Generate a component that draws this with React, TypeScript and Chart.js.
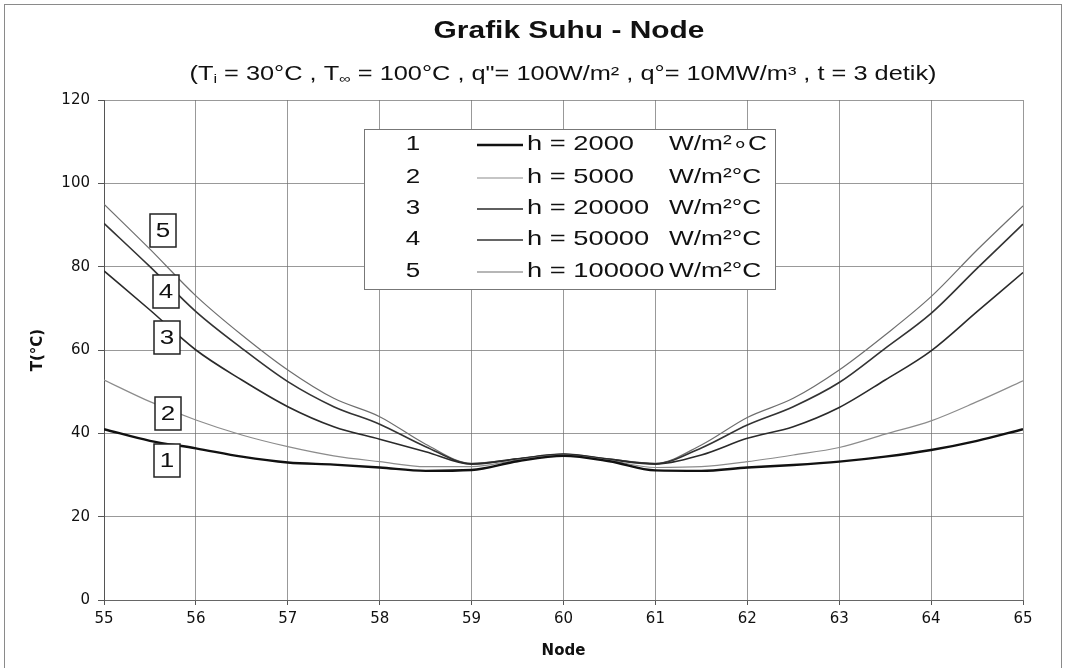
import React, { useEffect, useRef } from "react";
import { Chart, registerables } from "chart.js";

Chart.register(...registerables);

// ---- data ----
const nodes = [55, 55.5, 56, 56.5, 57, 57.5, 58, 58.5, 59, 59.5, 60, 60.5, 61, 61.5, 62, 62.5, 63, 63.5, 64, 64.5, 65];
const h2000 = [41.0, 38.2, 36.4, 34.4, 33.0, 32.5, 31.8, 31.0, 31.2, 33.3, 34.6, 33.3, 31.1, 31.0, 31.8, 32.4, 33.2, 34.4, 36.0, 38.2, 41.0];
const h5000 = [52.8, 47.6, 43.2, 39.6, 36.8, 34.6, 33.2, 32.0, 32.0, 33.6, 34.8, 33.5, 31.8, 32.0, 33.2, 34.8, 36.6, 39.8, 43.0, 47.6, 52.6];
const h20000 = [79.0, 69.6, 60.0, 52.8, 46.4, 41.6, 38.6, 35.6, 32.6, 33.8, 34.9, 33.7, 32.6, 34.8, 38.8, 41.6, 46.2, 52.8, 59.8, 69.2, 78.6];
const h50000 = [90.4, 80.0, 69.2, 60.4, 52.4, 46.4, 42.2, 36.8, 32.7, 33.9, 35.0, 33.8, 32.7, 36.5, 42.0, 46.4, 52.2, 60.4, 68.8, 79.6, 90.2];
const h100000 = [95.0, 84.2, 73.0, 63.6, 55.2, 48.4, 44.0, 37.4, 32.8, 33.9, 35.0, 33.8, 32.8, 37.2, 43.8, 48.4, 55.2, 63.6, 72.8, 84.0, 94.6];

const seriesNumbers = ["1", "2", "3", "4", "5"];
const seriesLabels = ["h = 2000", "h = 5000", "h = 20000", "h = 50000", "h = 100000"];
const seriesUnits = ["W/m²∘C", "W/m²°C", "W/m²°C", "W/m²°C", "W/m²°C"];
const seriesValues = [h2000, h5000, h20000, h50000, h100000];

const titleText = "Grafik Suhu - Node";
const xTitle = "Node";
const yTitle = "T(°C)";

// ---- styles ----
const lineColors = ["#111111", "#8c8c8c", "#2a2a2a", "#333333", "#6e6e6e"];
const lineWidths = [2.4, 1.2, 1.6, 1.6, 1.2];
const TXT = "'Liberation Sans', Arial, sans-serif";
const SX = 1.3;

function sText(ctx: CanvasRenderingContext2D, text: string, x: number, y: number, font: string, align: string, sx = SX) {
  ctx.save();
  ctx.font = font;
  ctx.textBaseline = "middle";
  ctx.textAlign = "left";
  const w = ctx.measureText(text).width * sx;
  const x0 = align === "center" ? x - w / 2 : align === "right" ? x - w : x;
  ctx.translate(x0, y);
  ctx.scale(sx, 1);
  ctx.fillText(text, 0, 0);
  ctx.restore();
  return w;
}

const overlay = {
  id: "overlay",
  beforeDraw(chart: any) {
    const ctx = chart.ctx as CanvasRenderingContext2D;
    ctx.save();
    ctx.fillStyle = "#fff";
    ctx.fillRect(0, 0, chart.width, chart.height);
    ctx.strokeStyle = "#8a8a8a";
    ctx.lineWidth = 1;
    ctx.strokeRect(4.5, 4.5, chart.width - 9, chart.height + 20);
    ctx.restore();
  },
  afterDraw(chart: any) {
    const ctx = chart.ctx as CanvasRenderingContext2D;
    ctx.save();
    ctx.fillStyle = "#111";
    // title
    sText(ctx, titleText, 569, 32, `bold 23px ${TXT}`, "center");
    // subtitle with subscripts
    const main = `19.5px ${TXT}`;
    const sub = `12.5px ${TXT}`;
    const parts: [string, boolean][] = [
      ["(T", false], ["i", true], [" = 30°C , T", false], ["∞", true],
      [" = 100°C , q\"= 100W/m² , q°= 10MW/m³ , t = 3 detik)", false],
    ];
    let total = 0;
    for (const [t, s] of parts) {
      ctx.font = s ? sub : main;
      total += ctx.measureText(t).width * SX;
    }
    let x = 563 - total / 2;
    for (const [t, s] of parts) {
      x += sText(ctx, t, x, s ? 80 : 75, s ? sub : main, "left");
    }

    // legend box
    const bx = 364, by = 129, bw = 411, bh = 160;
    ctx.fillStyle = "#fff";
    ctx.fillRect(bx, by, bw, bh);
    ctx.strokeStyle = "#777";
    ctx.lineWidth = 1;
    ctx.strokeRect(bx + 0.5, by + 0.5, bw, bh);
    const rows = [144, 177, 208, 239, 271];
    for (let i = 0; i < 5; i++) {
      ctx.fillStyle = "#111";
      sText(ctx, seriesNumbers[i], 413, rows[i], `20px ${TXT}`, "center");
      ctx.strokeStyle = lineColors[i];
      ctx.lineWidth = lineWidths[i];
      ctx.beginPath();
      ctx.moveTo(477, rows[i] + 1);
      ctx.lineTo(523, rows[i] + 1);
      ctx.stroke();
      ctx.fillStyle = "#111";
      sText(ctx, seriesLabels[i], 527, rows[i], `21px ${TXT}`, "left");
      sText(ctx, seriesUnits[i], 669, rows[i], `21px ${TXT}`, "left", 1.25);
    }

    // numbered boxes next to the curves
    const boxes: [string, number, number][] = [
      ["5", 163, 230], ["4", 166, 291], ["3", 167, 337], ["2", 168, 413], ["1", 167, 460],
    ];
    for (const [t, cx, cy] of boxes) {
      ctx.fillStyle = "#fff";
      ctx.fillRect(cx - 13, cy - 16, 26, 33);
      ctx.strokeStyle = "#222";
      ctx.lineWidth = 1.5;
      ctx.strokeRect(cx - 13, cy - 16, 26, 33);
      ctx.fillStyle = "#111";
      sText(ctx, t, cx, cy + 1, `20px ${TXT}`, "center");
    }
    ctx.restore();
  },
};

export default function App() {
  const ref = useRef<HTMLCanvasElement>(null);
  useEffect(() => {
    const canvas = ref.current;
    if (!canvas) return;
    const gridColor = "rgba(110,110,110,0.7)";
    const chart = new Chart(canvas, {
      type: "line",
      data: {
        datasets: seriesValues.map((vals, i) => ({
          label: seriesLabels[i],
          data: nodes.map((n, j) => ({ x: n, y: vals[j] })),
          borderColor: lineColors[i],
          borderWidth: lineWidths[i],
          pointRadius: 0,
          fill: false,
          cubicInterpolationMode: "monotone" as const,
        })),
      },
      options: {
        animation: false,
        responsive: false,
        maintainAspectRatio: false,
        layout: { padding: { top: 100, right: 43, left: 0, bottom: 0 } },
        plugins: {
          legend: { display: false },
          title: { display: false },
          tooltip: { enabled: false },
        },
        scales: {
          x: {
            type: "linear",
            min: 55,
            max: 65,
            afterFit: (s: any) => { s.height = 68; },
            ticks: {
              stepSize: 1,
              color: "#111",
              font: { family: "'DejaVu Sans'", size: 15 },
              padding: 5,
              maxRotation: 0,
            },
            grid: {
              color: gridColor,
              borderDash: [2, 2],
              tickLength: 5,
              tickColor: "#555",
              tickBorderDash: [],
            } as any,
            border: { display: true, color: "#666", width: 1 },
            title: {
              display: true,
              text: xTitle,
              color: "#111",
              font: { family: "'DejaVu Sans'", size: 15, weight: "bold" },
              padding: { top: 0, bottom: 8 },
            },
          },
          y: {
            type: "linear",
            min: 0,
            max: 120,
            afterFit: (s: any) => { s.width = 104; },
            ticks: {
              stepSize: 20,
              color: "#111",
              font: { family: "'DejaVu Sans'", size: 15 },
              padding: 8,
            },
            grid: {
              color: gridColor,
              borderDash: [2, 2],
              tickLength: 6,
              tickColor: "#555",
              tickBorderDash: [],
            } as any,
            border: { display: true, color: "#555", width: 1 },
            title: {
              display: true,
              text: yTitle,
              color: "#111",
              font: { family: "'DejaVu Sans'", size: 15, weight: "bold" },
              padding: { top: 29, bottom: 0 },
            },
          },
        },
      },
      plugins: [overlay],
    });
    return () => chart.destroy();
  }, []);
  return (
    <div style={{ position: "absolute", left: 0, top: 0, width: 1066, height: 668, background: "#fff" }}>
      <canvas ref={ref} width={1066} height={668} style={{ display: "block" }} />
    </div>
  );
}
